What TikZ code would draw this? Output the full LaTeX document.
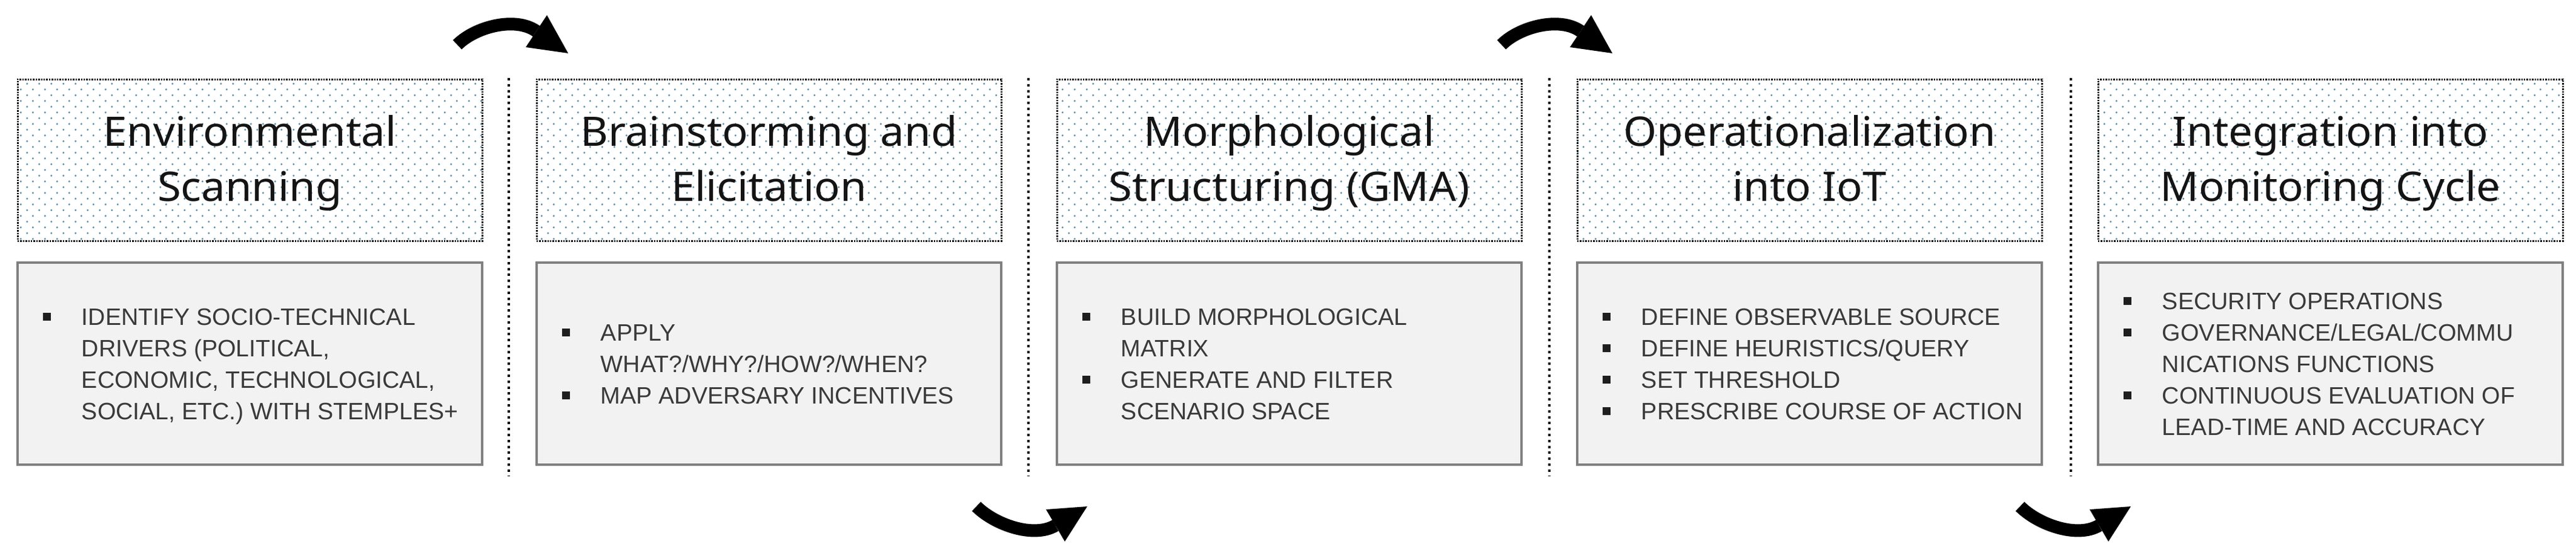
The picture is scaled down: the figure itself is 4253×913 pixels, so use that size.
\documentclass[tikz,border=0pt]{standalone}
\usepackage{fontspec}
\setmainfont{Liberation Sans}
\newfontfamily\hdrfont[FakeStretch=1.05]{Noto Sans}
\usetikzlibrary{patterns.meta}
\definecolor{dotcol}{RGB}{95,145,172}
\definecolor{bodyfill}{RGB}{242,242,242}
\definecolor{bodyline}{RGB}{128,128,128}
\definecolor{bodytxt}{RGB}{58,58,58}
\definecolor{hdrtxt}{RGB}{20,20,20}
\tikzdeclarepattern{
  name=hdrdots,
  type=colored,
  bounding box={(0pt,0pt) and (5pt,4.85pt)},
  tile size={(5pt,4.85pt)},
  code={
    \fill[dotcol] (1.25pt,1.2pt) circle[radius=0.44pt];
    \fill[dotcol] (3.75pt,3.625pt) circle[radius=0.44pt];
  }
}
\newcommand{\bl}[1]{\smash{\makebox[15.9pt][l]{\textcolor[RGB]{30,30,30}{\raisebox{1.9pt}{\rule{3.2pt}{3.2pt}}}}#1}}
\newcommand{\cl}[1]{\smash{\hspace*{15.9pt}#1}}
\newcommand{\hl}[1]{\smash{#1}}
\tikzset{
  hdrbox/.style={draw=black, line width=0.75pt, dash pattern=on 0.6pt off 0.5pt,
    preaction={fill=white}, pattern=hdrdots, minimum width=191.75pt, minimum height=66.75pt,
    inner sep=0pt, outer sep=0pt},
  bodybox/.style={draw=bodyline, fill=bodyfill, line width=1.1pt, minimum width=191.75pt,
    minimum height=83.5pt, inner sep=0pt, outer sep=0pt},
  hdrtext/.style={font=\hdrfont\fontsize{16.8pt}{22.75pt}\selectfont, text=hdrtxt, align=center,
    inner sep=0pt},
  bodytext/.style={font=\fontsize{9.8pt}{13pt}\selectfont, text=bodytxt, align=left,
    inner sep=0pt, anchor=west},
  sepline/.style={draw=black, line width=1pt, dash pattern=on 1pt off 1.45pt},
  arrowshaft/.style={draw=black, line width=5.25pt, line cap=butt},
  arrowhead/.style={fill=black}
}
\begin{document}
\begin{tikzpicture}[x=0.25pt,y=-0.25pt]
\useasboundingbox (0,0) rectangle (4253,913);
% separators
\foreach \sx [count=\i] in {840,1698,2558,3419}{
  \coordinate (s\i t) at (\sx,129);
  \coordinate (s\i b) at (\sx,786);
  \draw[sepline] (s\i t) -- (s\i b);
}
% boxes
\foreach \lx [count=\i] in {29,886,1745,2604,3464}{
  \node[hdrbox] (h\i) at (\lx+383.5,264.5) {};
  \node[bodybox] (b\i) at (\lx+383.5,601) {};
}
% header texts
\node[hdrtext] (ht1) at ([yshift=-22.5*0.25pt]h1.center) {\hl{Environmental}\\\hl{Scanning}};
\node[hdrtext] (ht2) at ([yshift=-22.5*0.25pt]h2.center) {\hl{Brainstorming and}\\\hl{Elicitation}};
\node[hdrtext] (ht3) at ([yshift=-22.5*0.25pt]h3.center) {\hl{Morphological}\\\hl{Structuring (GMA)}};
\node[hdrtext] (ht4) at ([yshift=-22.5*0.25pt]h4.center) {\hl{Operationalization}\\\hl{into IoT}};
\node[hdrtext] (ht5) at ([yshift=-22.5*0.25pt]h5.center) {\hl{Integration into}\\\hl{Monitoring Cycle}};
% body texts
\node[bodytext] (bt1) at ([xshift=41.5*0.25pt,yshift=-14.5*0.25pt]b1.west)
  {\bl{IDENTIFY SOCIO-TECHNICAL}\\\cl{DRIVERS (POLITICAL,}\\\cl{ECONOMIC, TECHNOLOGICAL,}\\\cl{SOCIAL, ETC.) WITH STEMPLES+}};
\node[bodytext] (bt2) at ([xshift=41.5*0.25pt,yshift=-14.5*0.25pt]b2.west)
  {\bl{APPLY}\\\cl{WHAT?/WHY?/HOW?/WHEN?}\\\bl{MAP ADVERSARY INCENTIVES}};
\node[bodytext] (bt3) at ([xshift=41.5*0.25pt,yshift=-14.5*0.25pt]b3.west)
  {\bl{BUILD MORPHOLOGICAL}\\\cl{MATRIX}\\\bl{GENERATE AND FILTER}\\\cl{SCENARIO SPACE}};
\node[bodytext] (bt4) at ([xshift=41.5*0.25pt,yshift=-14.5*0.25pt]b4.west)
  {\bl{DEFINE OBSERVABLE SOURCE}\\\bl{DEFINE HEURISTICS/QUERY}\\\bl{SET THRESHOLD}\\\bl{PRESCRIBE COURSE OF ACTION}};
\node[bodytext] (bt5) at ([xshift=41.5*0.25pt,yshift=-14.5*0.25pt]b5.west)
  {\bl{SECURITY OPERATIONS}\\\bl{GOVERNANCE/LEGAL/COMMU}\\\cl{NICATIONS FUNCTIONS}\\\bl{CONTINUOUS EVALUATION OF}\\\cl{LEAD-TIME AND ACCURACY}};
% top arrows
\foreach \ox [count=\i] in {0,1724}{
  \coordinate (ta\i t) at (755+\ox,74);
  \coordinate (ta\i c) at (785+\ox,44);
  \coordinate (ta\i d) at (851+\ox,27);
  \coordinate (ta\i b) at (885.5+\ox,51.5);
  \coordinate (ta\i l) at (903+\ox,25);
  \coordinate (ta\i r) at (868+\ox,78);
  \coordinate (ta\i p) at (938+\ox,88);
  \draw[arrowshaft] (ta\i t) .. controls (ta\i c) and (ta\i d) .. (ta\i b);
  \fill[arrowhead] (ta\i l) -- (ta\i p) -- (ta\i r) -- cycle;
}
% bottom arrows
\foreach \ox [count=\i] in {0,1723}{
  \coordinate (ba\i t) at (1612+\ox,837);
  \coordinate (ba\i c) at (1642+\ox,867);
  \coordinate (ba\i d) at (1706+\ox,890);
  \coordinate (ba\i b) at (1742.5+\ox,868.5);
  \coordinate (ba\i l) at (1727+\ox,842);
  \coordinate (ba\i r) at (1758+\ox,895);
  \coordinate (ba\i p) at (1795+\ox,837);
  \draw[arrowshaft] (ba\i t) .. controls (ba\i c) and (ba\i d) .. (ba\i b);
  \fill[arrowhead] (ba\i l) -- (ba\i p) -- (ba\i r) -- cycle;
}
\end{tikzpicture}
\end{document}
